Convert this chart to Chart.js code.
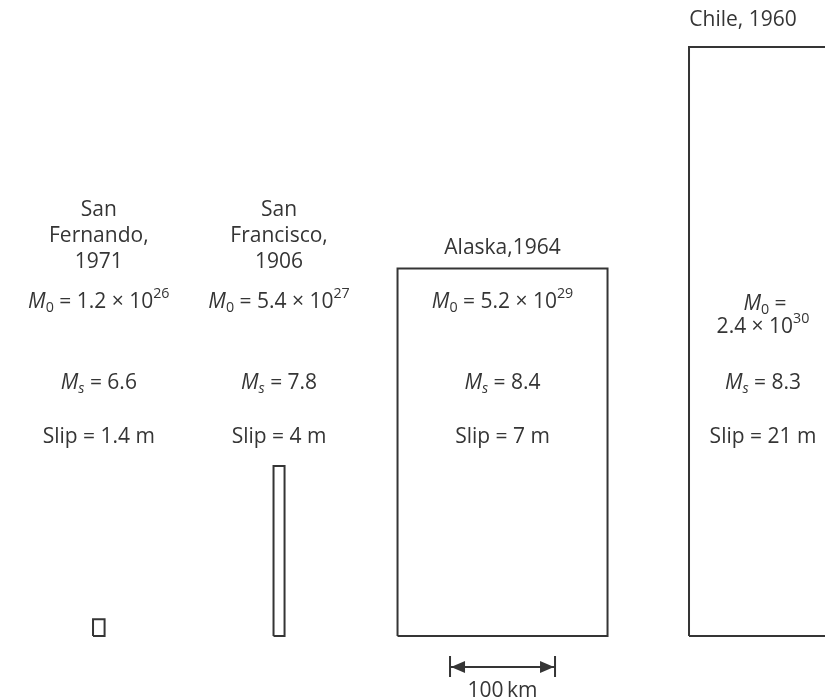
<!DOCTYPE html>
<html>
<head>
<meta charset="utf-8">
<script src="https://cdn.jsdelivr.net/npm/chart.js@4"></script>
<style>
  html, body { margin: 0; padding: 0; background: #fff; }
  #wrap { width: 825px; height: 700px; }
</style>
</head>
<body>
<div id="wrap"><canvas id="faultChart" width="825" height="700"></canvas></div>
<script>
// earthquake data
var titles   = [['San', 'Fernando,', '1971'], ['San', 'Francisco,', '1906'], ['Alaska,1964'], ['Chile, 1960']];
var m0Mant   = ['1.2', '5.4', '5.2', '2.4'];
var m0Exp    = ['26', '27', '29', '30'];
var msVals   = ['6.6', '7.8', '8.4', '8.3'];
var slipM    = ['1.4', '4', '7', '21'];
var widthKm  = [11, 10.5, 200, 240];
var lengthKm = [16, 162, 350, 561];

// layout (km along the drawing)
var leftKm = [88.6, 260.5, 378.6, 656.2];
var pxPerKm = 1.05;
var scaleBarKm = 100;

var ink = '#353535';
var fontFam = '"Open Sans", "Noto Sans", sans-serif';

var datasets = [];
for (var i = 0; i < titles.length; i++) {
    var x0 = leftKm[i], x1 = leftKm[i] + widthKm[i], h = lengthKm[i];
    datasets.push({
        data: [{x: x0, y: 0}, {x: x1, y: 0}, {x: x1, y: h}, {x: x0, y: h}, {x: x0, y: 0}],
        showLine: true,
        borderColor: ink,
        borderWidth: 2,
        pointRadius: 0,
        fill: false,
        tension: 0
    });
}

// draw a line of text made of pieces: plain, italic, sub, sup
function richText(ctx, parts, cx, cy, size) {
    var total = 0;
    parts.forEach(function (p) {
        var s = (p.sub || p.sup) ? size * 0.68 : size;
        ctx.font = (p.it ? 'italic ' : '') + s + 'px ' + fontFam;
        p.w = ctx.measureText(p.t).width;
        total += p.w;
    });
    var x = cx - total / 2;
    parts.forEach(function (p) {
        var s = (p.sub || p.sup) ? size * 0.68 : size;
        ctx.font = (p.it ? 'italic ' : '') + s + 'px ' + fontFam;
        var dy = p.sub ? size * 0.3 : (p.sup ? -size * 0.38 : 0);
        ctx.fillText(p.t, x, cy + dy);
        x += p.w;
    });
}

var labelPlugin = {
    id: 'labels',
    afterDraw: function (chart) {
        var ctx = chart.ctx, xs = chart.scales.x;
        var size = 21;
        ctx.save();
        ctx.fillStyle = ink;
        ctx.textBaseline = 'middle';
        ctx.textAlign = 'left';
        for (var i = 0; i < titles.length; i++) {
            var cx = (xs.getPixelForValue(leftKm[i]) + xs.getPixelForValue(leftKm[i] + widthKm[i])) / 2;
            if (i === 3) cx = xs.getPixelForValue(leftKm[i]) + 74;
            var tx = i === 3 ? cx - 20 : cx;
            var t = titles[i];
            var ty = t.length === 3 ? 210 : (i === 2 ? 248 : 20);
            t.forEach(function (line, k) {
                richText(ctx, [{t: line}], tx, ty + k * 26, size);
            });
            var mParts = [{t: 'M', it: true}, {t: '0', sub: true}];
            if (i === 3) {
                richText(ctx, mParts.concat([{t: ' ='}]), cx + 2, 304, size);
                richText(ctx, [{t: m0Mant[i] + ' \u00d7 10'}, {t: m0Exp[i], sup: true}], cx, 327, size);
            } else {
                richText(ctx, mParts.concat([{t: ' = ' + m0Mant[i] + ' \u00d7 10'}, {t: m0Exp[i], sup: true}]), cx, 302, size);
            }
            richText(ctx, [{t: 'M', it: true}, {t: 's', it: true, sub: true}, {t: ' = ' + msVals[i]}], cx, 383, size);
            richText(ctx, [{t: 'Slip = ' + slipM[i] + ' m'}], cx, 437, size);
        }

        // scale bar
        var ys = chart.scales.y;
        var bx0 = xs.getPixelForValue(leftKm[2] + 50);
        var bx1 = xs.getPixelForValue(leftKm[2] + 50 + scaleBarKm);
        var by = ys.getPixelForValue(-29.5);
        ctx.strokeStyle = ink;
        ctx.lineWidth = 2;
        ctx.beginPath();
        ctx.moveTo(bx0, by); ctx.lineTo(bx1, by);
        ctx.moveTo(bx0, by - 11); ctx.lineTo(bx0, by + 10);
        ctx.moveTo(bx1, by - 11); ctx.lineTo(bx1, by + 10);
        ctx.stroke();
        ctx.beginPath();
        ctx.moveTo(bx0 + 1, by); ctx.lineTo(bx0 + 15, by - 6); ctx.lineTo(bx0 + 15, by + 6); ctx.closePath();
        ctx.moveTo(bx1 - 1, by); ctx.lineTo(bx1 - 15, by - 6); ctx.lineTo(bx1 - 15, by + 6); ctx.closePath();
        ctx.fill();
        richText(ctx, [{t: scaleBarKm + '\u2009km'}], (bx0 + bx1) / 2, by + 24, size);
        ctx.restore();
    }
};

var ctx = document.getElementById('faultChart').getContext('2d');
var myChart = new Chart(ctx, {
    type: 'scatter',
    data: { datasets: datasets },
    options: {
        responsive: false,
        animation: false,
        layout: { padding: 0 },
        plugins: { legend: { display: false }, tooltip: { enabled: false } },
        scales: {
            x: { type: 'linear', display: false, min: 0, max: 825 / pxPerKm },
            y: { type: 'linear', display: false, min: -64 / pxPerKm, max: 636 / pxPerKm }
        }
    },
    plugins: [labelPlugin]
});
</script>
</body>
</html>
